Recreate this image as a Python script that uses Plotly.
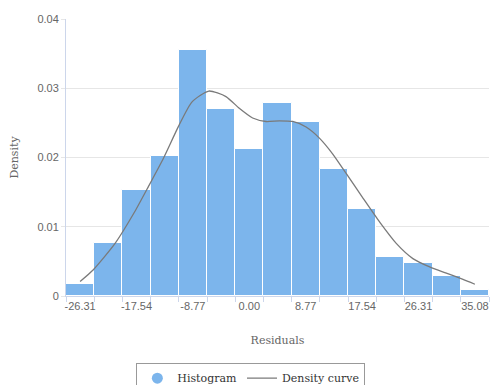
import plotly.graph_objects as go

# Histogram of residuals (density-normalised)
bin_centers = [-26.31, -21.925, -17.54, -13.155, -8.77, -4.385, 0.0, 4.385,
               8.77, 13.155, 17.54, 21.925, 26.31, 30.695, 35.08]
bin_width = 4.385
densities = [0.0018, 0.0076, 0.0153, 0.0202, 0.0355, 0.0270, 0.0212, 0.0279,
             0.0251, 0.0183, 0.0125, 0.0057, 0.0048, 0.0029, 0.0009]

# Kernel density estimate of the residuals
curve_x = [-26.31, -24.25, -20.87, -17.8, -15.69, -13.35, -11.01, -8.93,
           -6.3, -3.63, -1.56, 0.52, 2.6, 4.67, 6.75, 8.83, 10.9,
           12.98, 15.06, 17.7, 20.25, 22.85, 25.44, 28.04, 30.64, 33.23, 35.08]
curve_y = [0.0021, 0.0038, 0.0076, 0.0122, 0.0158, 0.0199, 0.0245, 0.0280,
           0.0296, 0.0288, 0.0271, 0.0257, 0.0252, 0.0253, 0.0252,
           0.0244, 0.0228, 0.0205, 0.0177, 0.0141, 0.0107, 0.0076, 0.0054,
           0.0042, 0.0033, 0.0024, 0.0017]

x_tick_vals = [-26.31, -17.54, -8.77, 0.0, 8.77, 17.54, 26.31, 35.08]
x_tick_text = ["-26.31", "-17.54", "-8.77", "0.00", "8.77", "17.54", "26.31", "35.08"]
y_tick_vals = [0, 0.01, 0.02, 0.03, 0.04]
y_tick_text = ["0", "0.01", "0.02", "0.03", "0.04"]

half = bin_width / 2
edges = [c - half for c in bin_centers] + [bin_centers[-1] + half]

BAR_COLOR = "#7cb5ec"
AXIS_COLOR = "#ccd6eb"
GRID_COLOR = "#e6e6e6"
SERIF = "DejaVu Serif"
SANS = "Liberation Sans"

fig = go.Figure()

fig.add_trace(go.Bar(
    x=bin_centers, y=densities, width=bin_width,
    marker=dict(color=BAR_COLOR, line=dict(color="white", width=1)),
    showlegend=False, hoverinfo="x+y",
))

# legend entry with a round marker for the histogram
fig.add_trace(go.Scatter(
    x=[None], y=[None], mode="markers", name="Histogram",
    marker=dict(symbol="circle", size=11, color=BAR_COLOR),
))

fig.add_trace(go.Scatter(
    x=curve_x, y=curve_y, mode="lines", name="Density curve",
    line=dict(color="#7a7a7a", width=1.3, shape="spline", smoothing=0.6),
))

fig.update_layout(
    width=491, height=385,
    margin=dict(l=66, r=2, t=19, b=89, autoexpand=False),
    paper_bgcolor="white", plot_bgcolor="white",
    bargap=0,
    legend=dict(
        orientation="h", x=0.437, xanchor="center",
        yref="container", y=0.058, yanchor="top",
        bordercolor="#999999", borderwidth=1,
        font=dict(family=SERIF, size=11, color="#333333"),
        itemwidth=30, tracegroupgap=0,
    ),
    xaxis=dict(
        range=[edges[0], edges[-1]], automargin=False,
        tickvals=x_tick_vals, ticktext=x_tick_text,
        ticks="", showgrid=False, zeroline=False,
        showline=True, linecolor=AXIS_COLOR, linewidth=1,
        tickfont=dict(family=SANS, size=11, color="#666666"),
        minor=dict(tickvals=edges, ticks="outside", ticklen=5,
                   tickcolor=AXIS_COLOR, showgrid=False),
        title=dict(text="Residuals", standoff=25,
                   font=dict(family=SERIF, size=11, color="#666666")),
    ),
    yaxis=dict(
        range=[0, 0.04], automargin=False,
        tickvals=y_tick_vals, ticktext=y_tick_text,
        ticks="outside", ticklen=4, tickcolor=GRID_COLOR,
        showgrid=True, gridcolor=GRID_COLOR, zeroline=False,
        showline=True, linecolor=AXIS_COLOR, linewidth=1,
        tickfont=dict(family=SANS, size=11, color="#666666"),
        title=dict(text="Density", standoff=16,
                   font=dict(family=SERIF, size=11, color="#666666")),
    ),
)

fig.write_html("out.html")
